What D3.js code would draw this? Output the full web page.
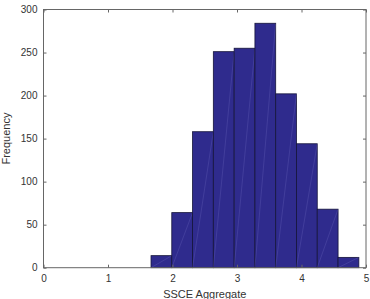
<!doctype html>
<html lang="en">
<head>
<meta charset="utf-8">
<title>SSCE Aggregate histogram</title>
<script src="https://cdn.jsdelivr.net/npm/d3@7"></script>
<style>
  html, body { margin: 0; padding: 0; background: #fff; }
  svg { display: block; font-family: "Liberation Sans", Arial, Helvetica, sans-serif; }
  .tick text { font-size: 10px; fill: #333; }
</style>
</head>
<body>
<svg id="chart" width="370" height="299"></svg>
<script>
// histogram bin edges (SSCE aggregate) and counts per bin
var binEdges = [1.667, 1.989, 2.311, 2.633, 2.956, 3.278, 3.600, 3.922, 4.244, 4.567, 4.889];
var counts = [14, 64, 158, 251, 255, 284, 202, 144, 68, 12];
var xTicks = [0, 1, 2, 3, 4, 5];
var yTicks = [0, 50, 100, 150, 200, 250, 300];

var bins = counts.map(function(c, i) {
  return { x0: binEdges[i], x1: binEdges[i + 1], n: c };
});

var svg = d3.select('#chart');
// plot box (window.top is reserved, so use a prefix)
var plotL = 43.5, plotR = 366, plotT = 9.5, plotB = 267.7;

var x = d3.scaleLinear().domain([0, 5]).range([plotL, plotR]);
var y = d3.scaleLinear().domain([0, 300]).range([plotB, plotT]);

// bars
var bar = svg.append('g').selectAll('g')
  .data(bins)
  .enter().append('g');

bar.append('rect')
  .attr('x', function(d) { return x(d.x0); })
  .attr('y', function(d) { return y(d.n); })
  .attr('width', function(d) { return x(d.x1) - x(d.x0); })
  .attr('height', function(d) { return y(0) - y(d.n); })
  .attr('fill', '#2f2b8d')
  .attr('stroke', '#15143a')
  .attr('stroke-width', 0.8);

// faint diagonal seams, like the patch triangulation in the original
bar.append('line')
  .attr('x1', function(d) { return x(d.x0); })
  .attr('y1', y(0))
  .attr('x2', function(d) { return x(d.x1); })
  .attr('y2', function(d) { return y(d.n); })
  .attr('stroke', '#8c88d6')
  .attr('stroke-opacity', 0.4)
  .attr('stroke-width', 0.5);

// axes with inward ticks, box style
var axisColor = '#666';
function styleAxis(g) {
  g.select('.domain').remove();
  g.selectAll('.tick line').attr('stroke', axisColor);
}

svg.append('g')
  .attr('transform', 'translate(0,' + plotB + ')')
  .call(d3.axisBottom(x).tickValues(xTicks).tickSize(-3).tickPadding(7).tickFormat(d3.format('d')))
  .call(styleAxis);

svg.append('g')
  .attr('transform', 'translate(0,' + plotT + ')')
  .call(d3.axisTop(x).tickValues(xTicks).tickSize(-3).tickFormat(''))
  .call(styleAxis);

svg.append('g')
  .attr('transform', 'translate(' + plotL + ',0)')
  .call(d3.axisLeft(y).tickValues(yTicks).tickSize(-3).tickPadding(6).tickFormat(d3.format('d')))
  .call(styleAxis);

svg.append('g')
  .attr('transform', 'translate(' + plotR + ',0)')
  .call(d3.axisRight(y).tickValues(yTicks).tickSize(-3).tickFormat(''))
  .call(styleAxis);

svg.append('rect')
  .attr('x', plotL).attr('y', plotT)
  .attr('width', plotR - plotL).attr('height', plotB - plotT)
  .attr('fill', 'none')
  .attr('stroke', axisColor)
  .attr('stroke-width', 1);

// axis titles
svg.append('text')
  .attr('x', (plotL + plotR) / 2)
  .attr('y', 298)
  .attr('text-anchor', 'middle')
  .attr('font-size', 11)
  .attr('fill', '#333')
  .text('SSCE Aggregate');

svg.append('text')
  .attr('transform', 'translate(10,' + ((plotT + plotB) / 2) + ') rotate(-90)')
  .attr('text-anchor', 'middle')
  .attr('font-size', 11)
  .attr('fill', '#333')
  .text('Frequency');
</script>
</body>
</html>
